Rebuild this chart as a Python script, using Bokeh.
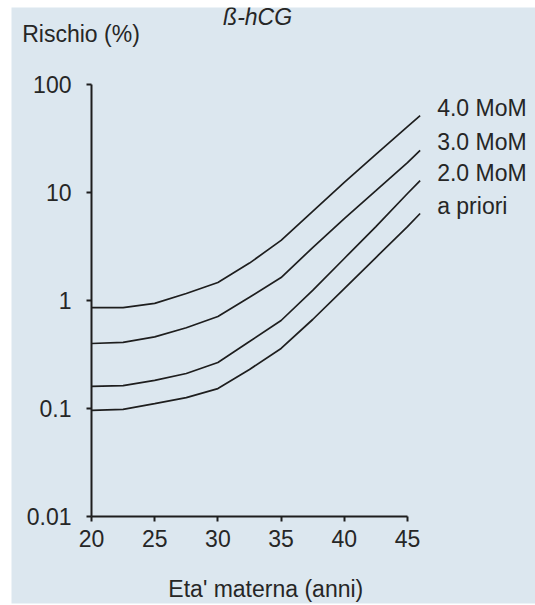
from bokeh.plotting import figure
from bokeh.models import Range1d, FixedTicker, Label
from bokeh.embed import file_html
from bokeh.resources import INLINE

# ---- data ----
age = [20, 22.5, 25, 27.5, 30, 32.5, 35, 37.5, 40, 42.5, 45, 46]
mom40 = [0.86, 0.86, 0.94, 1.16, 1.47, 2.22, 3.6, 6.7, 12.4, 22.5, 40.8, 51.6]
mom30 = [0.40, 0.41, 0.46, 0.56, 0.71, 1.07, 1.63, 3.09, 5.74, 10.4, 18.9, 24.5]
mom20 = [0.160, 0.163, 0.182, 0.211, 0.267, 0.417, 0.653, 1.24, 2.45, 4.84, 9.79, 12.9]
apriori = [0.096, 0.098, 0.111, 0.126, 0.153, 0.230, 0.360, 0.667, 1.29, 2.50, 4.84, 6.39]
series = [mom40, mom30, mom20, apriori]
series_names = ["4.0 MoM", "3.0 MoM", "2.0 MoM", "a priori"]

x_ticks = [20, 25, 30, 35, 40, 45]
y_ticks = [0.01, 0.1, 1, 10, 100]
y_tick_labels = ["0.01", "0.1", "1", "10", "100"]

title_text = "ß-hCG"
y_title = "Rischio (%)"
x_title = "Eta' materna (anni)"

BG = "#dce7ef"
INK = "#1e1e1e"
TXT = "#262626"
FONT = "Liberation Sans"
FS = "23px"
LIFT = 8  # px, baseline correction for labels

# the frame covers the whole light-blue panel; axes are pinned at age 20 / 0.01 %
p = figure(width=535, height=605, output_backend="svg", toolbar_location=None,
           x_range=Range1d(13.671, 55.127), y_range=Range1d(0.001565, 516.4),
           y_axis_type="log",
           min_border_left=11, min_border_right=0, min_border_top=7, min_border_bottom=2)
p.background_fill_color = BG
p.border_fill_color = "white"
p.outline_line_color = None
p.grid.visible = False

for ys in series:
    p.line(age, ys, line_color=INK, line_width=1.7)

for ax in (p.xaxis[0], p.yaxis[0]):
    ax.axis_line_color = INK
    ax.axis_line_width = 2
    ax.major_tick_line_color = INK
    ax.major_tick_line_width = 2
    ax.major_tick_out = 5
    ax.major_tick_in = 0
    ax.minor_tick_line_color = None
    ax.major_label_text_font = FONT
    ax.major_label_text_font_size = FS
    ax.major_label_text_color = TXT

p.xaxis[0].ticker = FixedTicker(ticks=x_ticks)
p.xaxis[0].bounds = (20, 45)
p.xaxis[0].fixed_location = 0.01
p.xaxis[0].major_label_standoff = 8

p.yaxis[0].ticker = FixedTicker(ticks=y_ticks)
p.yaxis[0].bounds = (0.01, 100)
p.yaxis[0].fixed_location = 20
p.yaxis[0].major_label_overrides = {t: s for t, s in zip(y_ticks, y_tick_labels)}
p.yaxis[0].major_label_standoff = 15

# curve labels at curve ends
for ys, name in zip(series, series_names):
    p.add_layout(Label(x=age[-1], y=ys[-1], x_offset=17, y_offset=LIFT, text=name,
                       text_font=FONT, text_font_size=FS, text_color=TXT,
                       text_baseline="alphabetic", text_align="left"))

# titles
p.add_layout(Label(x=14.52, y=245, y_offset=LIFT, text=y_title, text_font=FONT,
                   text_font_size=FS, text_color=TXT,
                   text_baseline="alphabetic", text_align="left"))
p.add_layout(Label(x=30.41, y=352, y_offset=LIFT, text=title_text, text_font=FONT,
                   text_font_size=FS, text_font_style="italic", text_color=TXT,
                   text_baseline="alphabetic", text_align="left"))
p.add_layout(Label(x=33.79, y=0.00178, y_offset=LIFT, text=x_title, text_font=FONT,
                   text_font_size=FS, text_color=TXT,
                   text_baseline="alphabetic", text_align="center"))

open("out.html", "w").write(file_html(p, INLINE))
